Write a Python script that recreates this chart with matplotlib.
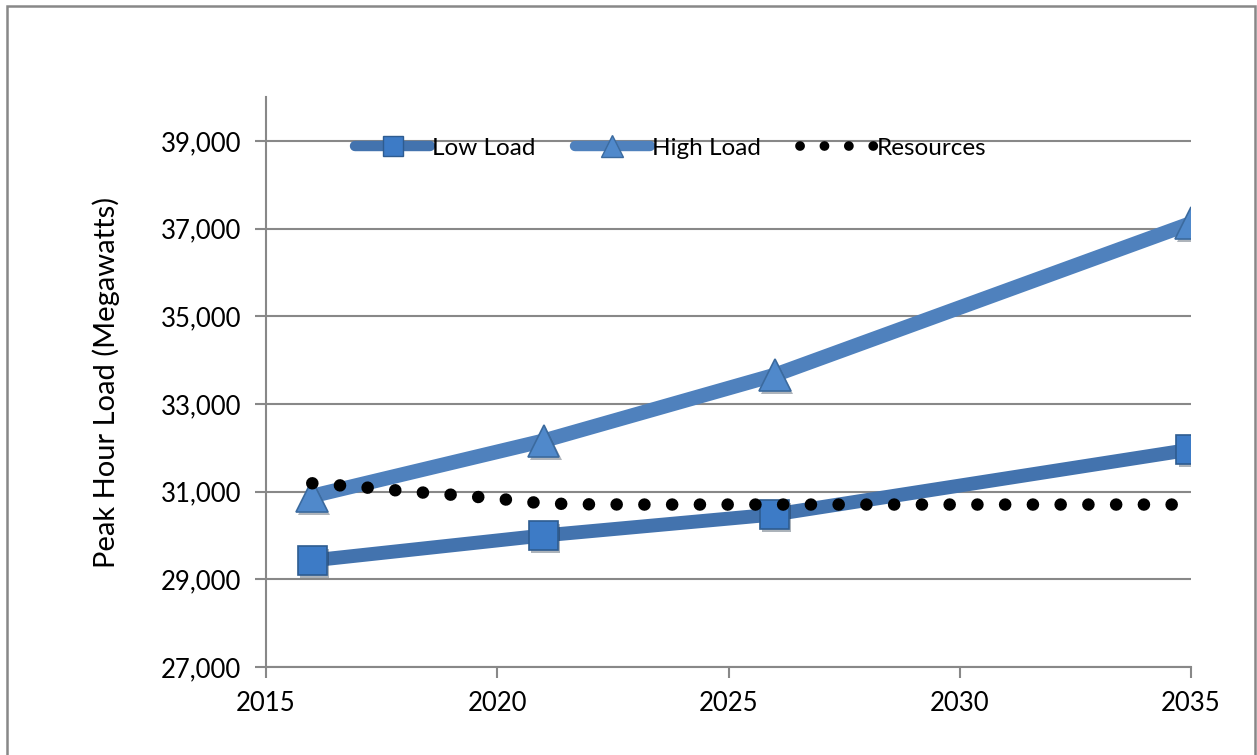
import matplotlib
matplotlib.use("Agg")
import matplotlib.pyplot as plt
from matplotlib.lines import Line2D
from matplotlib.patches import Rectangle
import matplotlib.patheffects as pe

plt.rcParams['font.family'] = ['Lato', 'DejaVu Sans']

# Data
load_years = [2016, 2021, 2026, 2035]
low_load = [29430, 30000, 30480, 31960]
high_load = [30900, 32160, 33660, 37120]
res_years = list(range(2016, 2036))
resources = [31190, 31110, 31010, 30930, 30840, 30730, 30710, 30705, 30705, 30705,
             30705, 30705, 30705, 30705, 30705, 30705, 30705, 30705, 30705, 30705]
x_ticks = [2015, 2020, 2025, 2030, 2035]
y_ticks = [27000, 29000, 31000, 33000, 35000, 37000, 39000]

W, H = 1257, 755
fig = plt.figure(figsize=(W / 100, H / 100), dpi=100)
ax = fig.add_axes([266 / W, 1 - 667 / H, (1191 - 266) / W, (667 - 97) / H])

low_col = '#4373AE'
high_col = '#4F81BD'
grid_col = '#888888'

shadow = [pe.SimplePatchShadow(offset=(1.5, -2), alpha=0.35), pe.Normal()]

ax.plot(load_years, high_load, color=high_col, lw=10.5, solid_capstyle='butt', zorder=3)
ax.plot(load_years, high_load, ls='none', marker='^', ms=23, mfc='#5089CB',
        mec='#3B6A9E', mew=1.2, zorder=4, path_effects=shadow)
ax.plot(load_years, low_load, color=low_col, lw=10, solid_capstyle='butt', zorder=3)
ax.plot(load_years, low_load, ls='none', marker='s', ms=21, mfc='#3D7BC6',
        mec='#2E5C90', mew=1.2, zorder=4, path_effects=shadow)
ax.plot(res_years, resources, color='black', lw=9, ls=(0, (0.01, 2.21)),
        dash_capstyle='round', zorder=5)

ax.set_xlim(2015, 2035)
ax.set_ylim(27000, 40000)
ax.set_xticks(x_ticks)
ax.set_yticks(y_ticks)
ax.set_yticklabels([f"{v:,}" for v in y_ticks])
ax.yaxis.grid(True, color=grid_col, lw=1.5)
ax.set_axisbelow(True)
for s in ['top', 'right']:
    ax.spines[s].set_visible(False)
for s in ['left', 'bottom']:
    ax.spines[s].set_color(grid_col)
    ax.spines[s].set_linewidth(1.5)
ax.tick_params(axis='both', colors=grid_col, labelcolor='black', labelsize=18.5,
               length=8, width=1.5, direction='out')
ax.tick_params(axis='y', pad=10)
ax.tick_params(axis='x', pad=9)
ax.set_ylabel('Peak Hour Load (Megawatts)', fontsize=21, labelpad=29)

handles = [
    Line2D([], [], color=low_col, lw=7.5, solid_capstyle='round', marker='s', ms=15,
           mfc='#3D7BC6', mec='#2E5C90'),
    Line2D([], [], color=high_col, lw=7.5, solid_capstyle='round', marker='^', ms=16,
           mfc='#5089CB', mec='#3B6A9E'),
    Line2D([], [], color='black', lw=7, ls=(0, (0.01, 2.5)), dash_capstyle='round'),
]
ax.legend(handles, ['Low Load', 'High Load', 'Resources'], loc='center left',
          bbox_to_anchor=((355 - 266) / 925, (667 - 148) / 570), ncol=3, frameon=False,
          fontsize=17.5, handlelength=3.1, handletextpad=0.08, columnspacing=1.6,
          borderpad=0, borderaxespad=0)

fig.patches.append(Rectangle((7 / W, -0.05), (1255 - 7) / W, 1.05 - 6 / H + 0.0,
                             transform=fig.transFigure, fill=False,
                             edgecolor='#888888', lw=1.8))

fig.savefig('out.png', dpi=100)
